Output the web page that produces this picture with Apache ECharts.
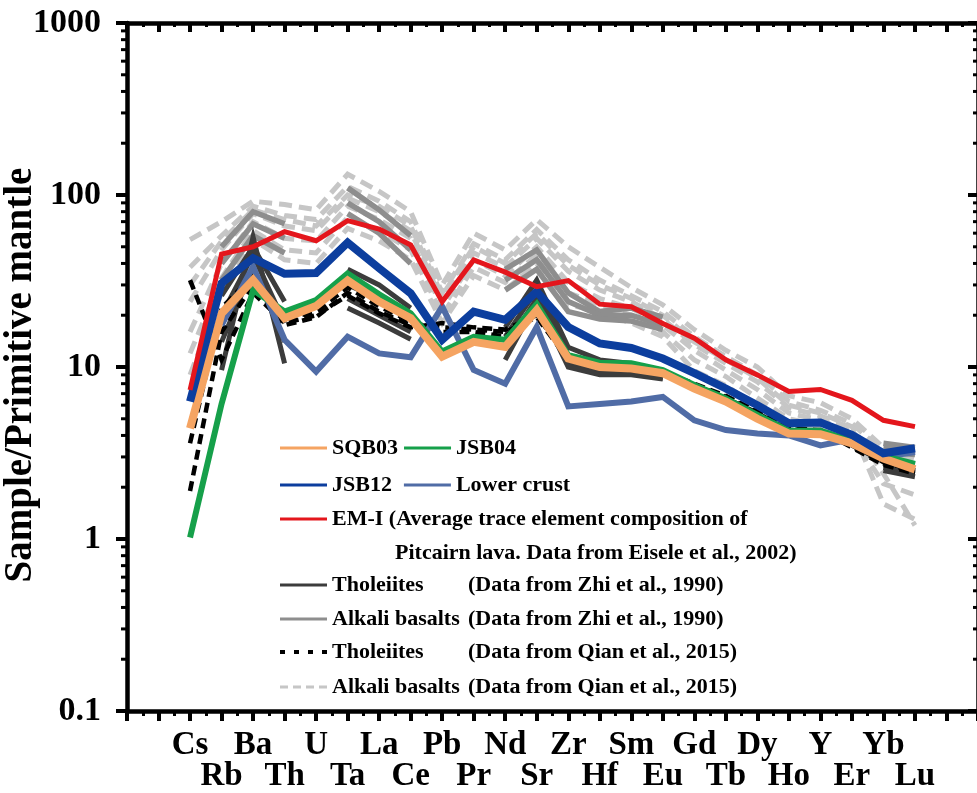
<!DOCTYPE html>
<html>
<head>
<meta charset="utf-8">
<title>Primitive-mantle normalized trace element patterns</title>
<script src="https://cdn.jsdelivr.net/npm/echarts@6/dist/echarts.min.js"></script>
<style>
  html, body { margin: 0; padding: 0; background: #ffffff; }
  #chart { width: 977px; height: 793px; }
</style>
</head>
<body>
<div id="chart"></div>
<script>
// Element order on the spider diagram
const elements = ['Cs','Rb','Ba','Th','U','Ta','La','Ce','Pb','Pr','Nd','Sr','Zr','Hf','Sm','Eu','Gd','Tb','Dy','Ho','Y','Er','Yb','Lu'];

// Samples of this study (sample / primitive mantle)
const sqb03 = [4.4, 20.5, 32, 19.2, 22.6, 31.8, 24.0, 19.2, 11.5, 14.0, 13.1, 21.4, 11.2, 10.0, 9.8, 9.2, 7.5, 6.3, 5.0, 4.1, 4.07, 3.6, 2.94, 2.54];
const jsb04 = [1.02, 6.1, 28.0, 21.0, 24.5, 35.0, 26.5, 20.5, 12.3, 15.0, 14.4, 23.2, 11.7, 10.6, 10.5, 9.6, 7.85, 6.57, 5.26, 4.26, 4.26, 3.73, 3.04, 2.73];
const jsb12 = [6.3, 30.7, 42.9, 34.8, 35.2, 52.9, 37.5, 26.8, 14.4, 21.0, 18.8, 27.4, 17.1, 13.7, 12.9, 11.2, 9.2, 7.5, 6.0, 4.71, 4.75, 4.03, 3.15, 3.37];

// Reference compositions
const lowerCrust = [null, 17.5, 38.3, 14.4, 9.4, 15.0, 12.0, 11.4, 22.4, 9.6, 8.0, 17.1, 5.9, 6.1, 6.3, 6.7, 4.9, 4.3, 4.1, 4.0, 3.5, 3.8, 3.0, 3.2];
const emI = [7.35, 45.4, 50, 61.2, 54.2, 71, 63.4, 51.2, 24.0, 41.9, 35.6, 29.3, 31.8, 23.2, 22.4, 17.9, 14.7, 11.0, 9.0, 7.2, 7.4, 6.4, 4.9, 4.5];

// Tholeiites, Zhi et al. (1990)
const zhiTholeiites = [
  [null, 9.6, 57, 10.5, null, 37, 30, 22, null, null, 17, 32, 13, 11, 10.5, 9.5, null, null, null, null, null, null, 2.7, 2.5],
  [null, 20, 45, 18, null, 30, 25, 19, null, null, 15, 28, 11.5, 10, 9.6, 9.0, null, null, null, null, null, null, 2.6, 2.4],
  [null, 14, 38, 14, null, 25, 20, 16, null, null, 13, 25, 10.5, 9.4, 9.2, 8.6, null, null, null, null, null, null, 2.5, 2.3],
  [null, 26, 50, 24, null, 22, 18, 14.5, null, null, 11, 24, 10, 9.0, 9.0, 8.5, null, null, null, null, null, null, 2.8, 2.6]
];

// Alkali basalts, Zhi et al. (1990)
const zhiAlkali = [
  [null, 50, 80, 68, null, 110, 82, 58, null, null, 37, 48, 27, 21, 22, 19.5, null, null, null, null, null, null, 3.6, 3.4],
  [null, 40, 68, 56, null, 90, 70, 48, null, null, 32, 42, 24, 20, 20, 17.5, null, null, null, null, null, null, 3.4, 3.3],
  [null, 32, 58, 46, null, 78, 60, 40, null, null, 28, 37, 21, 19, 18.5, 16.5, null, null, null, null, null, null, 3.2, 3.1]
];

// Tholeiites, Qian et al. (2015)
const qianTholeiites = [
  [1.9, 16, 30, 17.5, 19.5, 27, 21, 17.5, 17, 16.5, 16, 19.5, 11, 10, 9.6, 9.2, 7.8, 6.6, 5.4, 4.3, 4.2, 3.5, 2.8, 2.5],
  [3.6, 22, 34, 19, 21, 29, 22.5, 18.5, 16, 16, 15, 21, 11.5, 10.3, 9.8, 9.4, 8.0, 6.8, 5.5, 4.4, 4.3, 3.4, 2.7, 2.4],
  [32, 11, 27, 18, 20, 26, 20.5, 17, 18, 17, 16.5, 20, 11.2, 10.1, 9.7, 9.3, 7.9, 6.7, 5.45, 4.35, 4.25, 3.45, 2.75, 2.45]
];

// Alkali basalts, Qian et al. (2015)
const qianAlkali = [
  [55, 70, 92, 88, 82, 132, 105, 80, 30, 60, 48, 72, 50, 38, 29, 23, 16.5, 12.5, 10, 6.8, 6.2, 5.0, 3.4, 3.1],
  [38, 58, 86, 76, 72, 112, 92, 70, 27, 52, 42, 63, 42, 32, 26, 21, 15, 11.5, 9, 6.3, 5.6, 4.7, 3.2, 2.9],
  [24, 48, 78, 66, 62, 96, 80, 62, 24, 46, 38, 56, 36, 28, 24, 19, 13.5, 10.5, 8.2, 5.8, 5.2, 4.4, 1.6, 1.3],
  [16, 40, 70, 56, 54, 86, 72, 56, 22, 42, 34, 50, 31, 25, 22, 17.5, 12.5, 9.6, 7.4, 5.4, 4.9, 4.2, 3.0, 2.7],
  [12, 33, 62, 48, 46, 74, 62, 48, 20, 38, 31, 45, 27, 23, 20, 16, 11, 8.8, 6.6, 5.0, 4.6, 4.0, 2.1, 1.8],
  [9, 27, 55, 42, 40, 64, 54, 42, 18, 34, 28, 40, 23, 21, 18, 15, 9.5, 7.8, 5.9, 4.6, 4.3, 3.8, 2.8, 2.5],
  [30, 54, 82, 72, 66, 100, 86, 66, 26, 50, 40, 60, 39, 30, 25, 20, 14, 11, 8.6, 6.0, 5.4, 4.5, 2.4, 1.2]
];

// Y axis decade labels and the 2..9 minor tick values of the log scale
const yTickLabels = ['0.1', '1', '10', '100', '1000'];
const yMinorTicks = [0.2,0.3,0.4,0.5,0.6,0.7,0.8,0.9, 2,3,4,5,6,7,8,9, 20,30,40,50,60,70,80,90, 200,300,400,500,600,700,800,900];
const yTitle = 'Sample/Primitive mantle';

// Legend texts
const legendText = {
  'SQB03': 'SQB03',
  'JSB04': 'JSB04',
  'JSB12': 'JSB12',
  'Lower crust': 'Lower crust',
  'EM-I': 'EM-I (Average trace element composition of',
  'Tholeiites (Zhi)': '{a|Tholeiites}{b|(Data from Zhi et al., 1990)}',
  'Alkali basalts (Zhi)': '{a|Alkali basalts}{b|(Data from Zhi et al., 1990)}',
  'Tholeiites (Qian)': '{a|Tholeiites}{b|(Data from Qian et al., 2015)}',
  'Alkali basalts (Qian)': '{a|Alkali basalts}{b|(Data from Qian et al., 2015)}'
};
const emISecondLine = 'Pitcairn lava. Data from Eisele et al., 2002)';

// Legend key shapes: a plain bar, square dots and short dashes
const ICON_SOLID = 'rect';
const ICON_DOTS = 'path://M0,0h5v4h-5zM14,0h5v4h-5zM28,0h5v4h-5zM42,0h5v4h-5z';
const ICON_DASHES = 'path://M0,0h8v3h-8zM13,0h8v3h-8zM26,0h8v3h-8zM39,0h8v3h-8z';

const X_MIN = -2, X_MAX = 25;
const FONT = '"Liberation Serif", "Times New Roman", serif';

function pairs(arr) {
  return arr.map((v, i) => [i, v == null ? '-' : v]);
}

function lineSeries(name, arr, color, width, type, z) {
  return {
    name: name,
    type: 'line',
    data: pairs(arr),
    symbol: 'none',
    showSymbol: false,
    connectNulls: false,
    silent: true,
    z: z,
    lineStyle: { color: color, width: width, type: type || 'solid', cap: 'butt', join: 'miter' },
    itemStyle: { color: color }
  };
}

const series = [];
qianAlkali.forEach(a => series.push(lineSeries('Alkali basalts (Qian)', a, '#c6c6c6', 5, [13, 7], 2)));
zhiAlkali.forEach(a => series.push(lineSeries('Alkali basalts (Zhi)', a, '#8e8e8e', 5.5, 'solid', 3)));
zhiTholeiites.forEach(a => series.push(lineSeries('Tholeiites (Zhi)', a, '#3c3c3c', 5, 'solid', 4)));
qianTholeiites.forEach(a => series.push(lineSeries('Tholeiites (Qian)', a, '#000000', 4.5, [10, 6], 5)));
series.push(lineSeries('Lower crust', lowerCrust, '#506ca6', 6, 'solid', 6));
series.push(lineSeries('JSB04', jsb04, '#16a04a', 6, 'solid', 7));
series.push(lineSeries('SQB03', sqb03, '#f5a462', 8, 'solid', 8));
series.push(lineSeries('JSB12', jsb12, '#0c3e9e', 8, 'solid', 9));
series.push(lineSeries('EM-I', emI, '#e4161c', 5, 'solid', 10));

// Minor ticks of the two log axes (left: outward, right: inward)
series.push({
  type: 'custom',
  silent: true,
  clip: false,
  z: 20,
  data: yMinorTicks.map(v => [X_MIN, v]),
  renderItem: function (params, api) {
    const v = api.value(1);
    const l = api.coord([X_MIN, v]);
    const r = api.coord([X_MAX, v]);
    return {
      type: 'group',
      children: [
        { type: 'line', shape: { x1: l[0] - 6, y1: l[1], x2: l[0], y2: l[1] }, style: { stroke: '#000', lineWidth: 3 } },
        { type: 'line', shape: { x1: r[0] - 5, y1: r[1], x2: r[0], y2: r[1] }, style: { stroke: '#000', lineWidth: 3 } }
      ]
    };
  }
});

const legendTextStyle = {
  fontFamily: FONT, fontWeight: 'bold', fontSize: 22, color: '#000',
  rich: {
    a: { fontFamily: FONT, fontWeight: 'bold', fontSize: 22, color: '#000', width: 136 },
    b: { fontFamily: FONT, fontWeight: 'bold', fontSize: 22, color: '#000' }
  }
};
function legendRow(names, centerY, gap, icon, iconHeight) {
  return {
    orient: 'horizontal',
    left: 280,
    top: centerY - 11,
    padding: 0,
    itemGap: gap,
    itemWidth: 47,
    itemHeight: iconHeight,
    icon: icon,
    selectedMode: false,
    textStyle: legendTextStyle,
    formatter: name => legendText[name],
    data: names
  };
}

const option = {
  animation: false,
  backgroundColor: '#ffffff',
  grid: { left: 127, right: -1, top: 23, bottom: 82, containLabel: false, outerBoundsMode: 'none' },
  xAxis: [
    {
      type: 'value', min: X_MIN, max: X_MAX, interval: 1, position: 'bottom',
      axisLine: { show: true, onZero: false, lineStyle: { color: '#000', width: 4.5 } },
      axisTick: { show: true, inside: false, length: 10, lineStyle: { color: '#000', width: 4 } },
      minorTick: { show: true, splitNumber: 2, length: 5, lineStyle: { color: '#000', width: 3 } },
      splitLine: { show: false }, minorSplitLine: { show: false },
      axisLabel: {
        show: true, margin: 19, color: '#000', fontFamily: FONT, fontWeight: 'bold', fontSize: 33, lineHeight: 31,
        showMinLabel: true, showMaxLabel: true,
        formatter: function (v) {
          const i = Math.round(v);
          if (Math.abs(v - i) > 1e-6 || i < 0 || i >= elements.length) return '';
          return i % 2 === 0 ? elements[i] : '\n' + elements[i];
        }
      }
    },
    {
      type: 'value', min: X_MIN, max: X_MAX, interval: 1, position: 'top',
      axisLine: { show: true, onZero: false, lineStyle: { color: '#000', width: 4.5 } },
      axisTick: { show: true, inside: true, length: 9, lineStyle: { color: '#000', width: 4 } },
      minorTick: { show: true, splitNumber: 2, length: 4, lineStyle: { color: '#000', width: 3 } },
      splitLine: { show: false }, minorSplitLine: { show: false },
      axisLabel: { show: false }
    }
  ],
  yAxis: [
    {
      type: 'log', logBase: 10, min: 0.1, max: 1000, position: 'left',
      axisLine: { show: true, onZero: false, lineStyle: { color: '#000', width: 4.5 } },
      axisTick: { show: true, inside: false, length: 11, lineStyle: { color: '#000', width: 4 } },
      splitLine: { show: false },
      axisLabel: {
        margin: 26, color: '#000', fontFamily: FONT, fontWeight: 'bold', fontSize: 34,
        formatter: function (v) {
          const k = Math.round(Math.log10(v)) + 1;
          return yTickLabels[k] !== undefined ? yTickLabels[k] : '';
        }
      }
    },
    {
      type: 'log', logBase: 10, min: 0.1, max: 1000, position: 'right',
      axisLine: { show: true, onZero: false, lineStyle: { color: '#000', width: 4.5 } },
      axisTick: { show: true, inside: true, length: 10, lineStyle: { color: '#000', width: 4 } },
      splitLine: { show: false },
      axisLabel: { show: false }
    }
  ],
  legend: [
    legendRow(['SQB03', 'JSB04'], 448, 6, ICON_SOLID, 3),
    legendRow(['JSB12', 'Lower crust'], 485, 12, ICON_SOLID, 3),
    legendRow(['EM-I'], 519, 10, ICON_SOLID, 3),
    legendRow(['Tholeiites (Zhi)'], 585, 10, ICON_SOLID, 3),
    legendRow(['Alkali basalts (Zhi)'], 619, 10, ICON_SOLID, 3),
    legendRow(['Tholeiites (Qian)'], 652, 10, ICON_DOTS, 4),
    legendRow(['Alkali basalts (Qian)'], 687, 10, ICON_DASHES, 3)
  ],
  graphic: [
    {
      type: 'text', left: 395, top: 553 - 11, silent: true, z: 50,
      style: { text: emISecondLine, fill: '#000', fontFamily: FONT, fontWeight: 'bold', fontSize: 22 }
    },
    {
      // vertical axis title, reading bottom to top
      type: 'text', x: 21, y: 375, rotation: Math.PI / 2, silent: true, z: 50,
      style: { text: yTitle, fill: '#000', fontFamily: FONT, fontWeight: 'bold', fontSize: 39, align: 'center', verticalAlign: 'middle' }
    }
  ],
  series: series
};

const chart = echarts.init(document.getElementById('chart'), null, { renderer: 'canvas' });
chart.setOption(option);
</script>
</body>
</html>
